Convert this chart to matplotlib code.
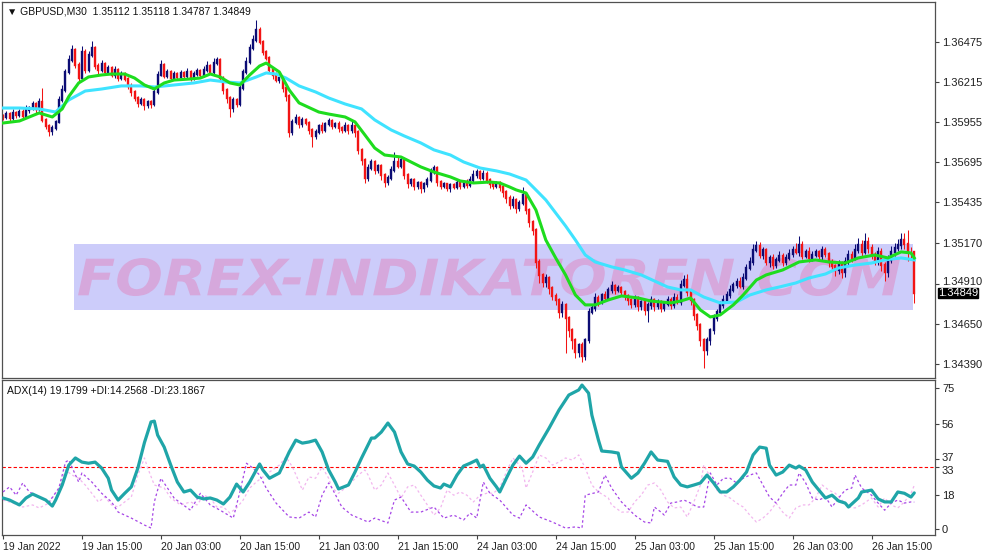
import numpy as np
import matplotlib
matplotlib.use("Agg")
import matplotlib.pyplot as plt
from matplotlib.textpath import TextPath
from matplotlib.patches import PathPatch, Rectangle
from matplotlib.font_manager import FontProperties
from matplotlib.transforms import Affine2D, blended_transform_factory, ScaledTranslation

plt.rcParams['font.family'] = ['Liberation Sans', 'DejaVu Sans']

# ---- price data, GBPUSD M30, bar 0 = 19 Jan 2022 03:00 ----
closes = [
    1.35988, 1.36007, 1.35981, 1.36014, 1.36001, 1.36020, 1.35994, 1.36033, 1.36046, 1.36072,
    1.36040, 1.36085, 1.35969, 1.35930, 1.35897, 1.35917, 1.35956, 1.36098, 1.36163, 1.36279,
    1.36357, 1.36422, 1.36324, 1.36240, 1.36409, 1.36292, 1.36389, 1.36434, 1.36318, 1.36292,
    1.36331, 1.36279, 1.36305, 1.36260, 1.36292, 1.36240, 1.36266, 1.36234, 1.36189, 1.36150,
    1.36111, 1.36079, 1.36098, 1.36066, 1.36085, 1.36072, 1.36150, 1.36260, 1.36324, 1.36253,
    1.36279, 1.36240, 1.36266, 1.36247, 1.36273, 1.36253, 1.36279, 1.36240, 1.36266, 1.36286,
    1.36260, 1.36292, 1.36318, 1.36279, 1.36337, 1.36357, 1.36240, 1.36163, 1.36111, 1.36046,
    1.36098, 1.36072, 1.36176, 1.36279, 1.36344, 1.36434, 1.36486, 1.36551, 1.36473, 1.36409,
    1.36370, 1.36292, 1.36260, 1.36227, 1.36240, 1.36176, 1.36124, 1.35891, 1.35956, 1.35981,
    1.35943, 1.35969, 1.35949, 1.35904, 1.35865, 1.35891, 1.35930, 1.35904, 1.35943, 1.35962,
    1.35930, 1.35943, 1.35917, 1.35904, 1.35930, 1.35904, 1.35930, 1.35891, 1.35775, 1.35710,
    1.35593, 1.35658, 1.35697, 1.35645, 1.35671, 1.35613, 1.35567, 1.35593, 1.35645, 1.35697,
    1.35671, 1.35710, 1.35613, 1.35561, 1.35580, 1.35542, 1.35561, 1.35529, 1.35554, 1.35580,
    1.35632, 1.35658, 1.35567, 1.35542, 1.35554, 1.35529, 1.35548, 1.35535, 1.35561, 1.35542,
    1.35567, 1.35548, 1.35580, 1.35613, 1.35632, 1.35593, 1.35619, 1.35580, 1.35554, 1.35542,
    1.35561, 1.35535, 1.35503, 1.35464, 1.35419, 1.35451, 1.35399, 1.35432, 1.35483, 1.35386,
    1.35309, 1.35257, 1.35050, 1.34966, 1.34921, 1.34946, 1.34882, 1.34830, 1.34804, 1.34726,
    1.34772, 1.34688, 1.34610, 1.34545, 1.34468, 1.34513, 1.34442, 1.34545, 1.34726, 1.34752,
    1.34817, 1.34791, 1.34836, 1.34817, 1.34869, 1.34895, 1.34869, 1.34882, 1.34856, 1.34830,
    1.34804, 1.34778, 1.34817, 1.34765, 1.34791, 1.34739, 1.34772, 1.34804, 1.34765, 1.34791,
    1.34752, 1.34778, 1.34804, 1.34772, 1.34817, 1.34791, 1.34901, 1.34933, 1.34856, 1.34804,
    1.34707, 1.34642, 1.34545, 1.34480, 1.34545, 1.34610, 1.34688, 1.34726, 1.34772, 1.34804,
    1.34836, 1.34869, 1.34901, 1.34921, 1.34895, 1.34946, 1.35011, 1.35050, 1.35127, 1.35153,
    1.35095, 1.35127, 1.35050, 1.35076, 1.35030, 1.35063, 1.35089, 1.35050, 1.35076, 1.35102,
    1.35127, 1.35115, 1.35160, 1.35089, 1.35115, 1.35076, 1.35095, 1.35115, 1.35089, 1.35127,
    1.35102, 1.35050, 1.35024, 1.34998, 1.35037, 1.34985, 1.35050, 1.35095, 1.35076, 1.35127,
    1.35160, 1.35115, 1.35179, 1.35140, 1.35095, 1.35063, 1.35115, 1.35030, 1.34985, 1.35063,
    1.35115, 1.35140, 1.35160, 1.35192, 1.35166, 1.35115, 1.35112, 1.34849,
]
first_open = 1.35995

# wick lengths in points (1e-5)
upper_wick = [
    15, 20, 10, 25, 12, 18, 22, 30, 15, 20, 12, 25, 90, 15, 10, 20, 12, 25, 30, 20,
    35, 30, 15, 20, 40, 18, 25, 45, 15, 20, 25, 12, 20, 15, 25, 10, 20, 15, 12, 18,
    15, 10, 20, 12, 15, 10, 20, 25, 30, 15, 20, 12, 18, 15, 20, 12, 25, 15, 20, 18,
    15, 25, 30, 12, 30, 20, 15, 10, 12, 15, 20, 15, 25, 20, 30, 25, 35, 65, 20, 15,
    12, 15, 10, 20, 15, 12, 10, 15, 20, 25, 15, 20, 12, 15, 10, 20, 15, 25, 12, 20,
    15, 10, 20, 15, 25, 12, 30, 15, 10, 12, 15, 25, 20, 15, 12, 10, 15, 20, 25, 65,
    30, 20, 15, 10, 12, 15, 10, 12, 15, 20, 25, 20, 10, 12, 15, 10, 12, 15, 20, 12,
    15, 20, 25, 30, 20, 15, 25, 20, 12, 10, 15, 12, 10, 15, 20, 25, 15, 20, 50, 15,
    12, 15, 10, 20, 12, 25, 15, 10, 20, 15, 25, 15, 12, 10, 15, 12, 20, 15, 25, 20,
    30, 20, 15, 25, 20, 30, 15, 20, 15, 10, 12, 15, 20, 12, 15, 10, 20, 25, 15, 20,
    15, 20, 25, 20, 30, 25, 35, 30, 40, 15, 12, 10, 15, 12, 20, 15, 25, 20, 25, 30,
    25, 30, 20, 25, 30, 35, 25, 30, 40, 35, 25, 20, 15, 20, 25, 20, 30, 20, 25, 30,
    25, 45, 60, 25, 20, 30, 25, 20, 15, 25, 20, 15, 20, 12, 25, 20, 30, 35, 25, 40,
    45, 30, 60, 35, 25, 20, 30, 25, 20, 30, 35, 30, 40, 45, 45, 90, 30, 6,
]
lower_wick = [
    20, 15, 25, 12, 20, 15, 18, 12, 20, 15, 25, 12, 15, 20, 30, 25, 15, 10, 12, 15,
    12, 15, 20, 25, 15, 20, 12, 15, 20, 25, 15, 20, 12, 15, 18, 20, 12, 15, 20, 25,
    20, 25, 15, 30, 20, 25, 15, 12, 10, 15, 12, 20, 15, 12, 18, 15, 12, 20, 15, 12,
    15, 12, 10, 15, 12, 15, 20, 25, 30, 60, 25, 20, 15, 12, 10, 15, 12, 10, 15, 20,
    15, 20, 25, 15, 20, 25, 30, 35, 20, 15, 25, 20, 15, 25, 70, 20, 15, 20, 15, 12,
    20, 15, 25, 20, 15, 25, 20, 30, 25, 30, 35, 20, 15, 25, 20, 30, 35, 20, 15, 12,
    15, 12, 25, 30, 20, 25, 20, 30, 25, 20, 15, 12, 25, 20, 15, 20, 25, 15, 12, 20,
    15, 20, 12, 15, 20, 15, 12, 20, 25, 20, 15, 25, 30, 35, 25, 20, 30, 20, 15, 25,
    30, 35, 40, 50, 35, 30, 40, 25, 30, 40, 30, 230, 45, 60, 40, 35, 40, 25, 20, 15,
    20, 25, 15, 20, 15, 20, 25, 15, 20, 25, 30, 25, 20, 30, 25, 35, 80, 25, 30, 20,
    25, 20, 15, 25, 20, 15, 20, 15, 25, 30, 35, 30, 40, 115, 35, 30, 25, 20, 15, 20,
    15, 20, 15, 20, 15, 20, 15, 12, 20, 15, 20, 25, 20, 30, 25, 20, 15, 25, 20, 15,
    20, 15, 25, 20, 15, 25, 20, 15, 20, 25, 20, 30, 35, 40, 25, 40, 30, 20, 25, 15,
    20, 25, 15, 30, 25, 35, 30, 40, 60, 30, 20, 25, 20, 25, 30, 60, 40, 62,
]

# moving averages (bar index, price)
ma_fast_bar = [0, 5, 11, 15, 18, 20, 23, 26, 30, 33, 37, 40, 43, 46, 49, 52, 57, 60, 63, 66,
               69, 72, 75, 78, 80, 84, 87, 90, 96, 99, 104, 107, 110, 113, 116, 121, 124, 127, 131, 136,
               139, 143, 148, 151, 154, 156, 159, 162, 165, 168, 171, 174, 177, 180, 184, 188, 193, 197, 203, 206,
               209, 212, 215, 218, 222, 225, 229, 232, 237, 242, 247, 251, 256, 260, 265, 269, 273, 276, 277]
ma_fast = [1.35949, 1.35962, 1.36014, 1.35988, 1.36040, 1.36120, 1.36208, 1.36247, 1.36260, 1.36266,
           1.36266, 1.36240, 1.36195, 1.36169, 1.36208, 1.36227, 1.36234, 1.36240, 1.36266, 1.36247,
           1.36208, 1.36195, 1.36260, 1.36318, 1.36337, 1.36279, 1.36163, 1.36079, 1.36020, 1.36007,
           1.35988, 1.35956, 1.35872, 1.35787, 1.35742, 1.35729, 1.35697, 1.35665, 1.35632, 1.35600,
           1.35574, 1.35561, 1.35567, 1.35561, 1.35535, 1.35516, 1.35496, 1.35386, 1.35192, 1.35076,
           1.34966, 1.34836, 1.34772, 1.34772, 1.34804, 1.34830, 1.34817, 1.34797, 1.34785, 1.34797,
           1.34817, 1.34739, 1.34694, 1.34707, 1.34772, 1.34836, 1.34933, 1.34966, 1.34998, 1.35050,
           1.35063, 1.35050, 1.35043, 1.35076, 1.35095, 1.35076, 1.35115, 1.35108, 1.35076]
ma_slow_bar = [0, 5, 11, 16, 20, 25, 30, 36, 42, 46, 52, 58, 63, 68, 72, 77, 80, 83, 86, 90,
               95, 99, 104, 109, 113, 118, 122, 127, 131, 136, 140, 145, 150, 154, 159, 162, 165, 168, 171, 174,
               177, 180, 185, 189, 194, 198, 202, 206, 209, 213, 218, 223, 227, 232, 236, 241, 245, 250, 254, 259,
               264, 268, 273, 277]
ma_slow = [1.36046, 1.36046, 1.36040, 1.36020, 1.36098, 1.36156, 1.36169, 1.36189, 1.36189, 1.36182,
           1.36195, 1.36208, 1.36227, 1.36214, 1.36208, 1.36247, 1.36273, 1.36266, 1.36240, 1.36189,
           1.36150, 1.36111, 1.36072, 1.36040, 1.35969, 1.35904, 1.35865, 1.35820, 1.35775, 1.35742,
           1.35697, 1.35658, 1.35639, 1.35619, 1.35580, 1.35516, 1.35451, 1.35367, 1.35283, 1.35192,
           1.35095, 1.35050, 1.35018, 1.34998, 1.34966, 1.34927, 1.34888, 1.34869, 1.34869, 1.34823,
           1.34785, 1.34791, 1.34836, 1.34869, 1.34888, 1.34914, 1.34946, 1.34972, 1.35011, 1.35030,
           1.35043, 1.35063, 1.35076, 1.35063]

# ADX(14)
adx_bar = [0, 2, 5, 7, 9, 11, 13, 15, 16, 18, 20, 22, 24, 26, 28, 30, 32, 33, 35, 37,
           39, 41, 43, 45, 46, 47, 49, 51, 53, 55, 57, 59, 61, 63, 65, 67, 69, 71, 73, 75,
           78, 79, 81, 84, 87, 89, 91, 93, 95, 97, 99, 101, 102, 105, 107, 109, 112, 113, 115, 117,
           119, 121, 123, 125, 127, 129, 131, 133, 134, 136, 138, 140, 142, 144, 145, 146, 148, 150, 151, 153,
           155, 157, 159, 161, 163, 166, 169, 172, 175, 176, 178, 179, 181, 182, 185, 187, 188, 191, 193, 195,
           197, 199, 202, 204, 206, 208, 210, 212, 214, 216, 218, 220, 222, 224, 226, 228, 230, 232, 233, 235,
           237, 239, 241, 242, 244, 246, 248, 250, 252, 254, 256, 257, 260, 261, 264, 266, 268, 270, 272, 274,
           276, 277]
adx = [16.5, 15.4, 12.8, 16.5, 18.6, 17.0, 15.4, 12.2, 15.4, 23.4, 34.0, 37.8, 35.6, 35.0, 35.6, 32.4, 27.0, 20.7, 15.4, 19.0,
       22.4, 32.4, 46.0, 57.0, 57.4, 50.0, 43.6, 34.0, 25.0, 19.7, 20.7, 17.0, 16.0, 16.5, 15.4, 13.3, 17.0, 23.9, 19.7, 25.0,
       34.6, 31.4, 27.0, 29.8, 41.0, 47.3, 45.7, 46.3, 47.3, 41.0, 31.4, 25.0, 21.3, 23.4, 30.3, 37.8, 48.4, 48.4, 51.6, 56.4,
       51.6, 41.0, 34.6, 33.5, 30.3, 26.0, 22.9, 21.8, 23.9, 22.4, 28.7, 33.5, 35.0, 36.7, 33.0, 34.0, 27.0, 22.4, 19.7, 27.0,
       34.0, 38.8, 35.0, 38.3, 44.7, 53.7, 63.3, 71.3, 74.0, 76.6, 72.3, 60.6, 47.3, 41.5, 41.0, 40.4, 33.0, 27.0, 29.8, 35.0,
       41.0, 36.7, 36.0, 27.7, 23.4, 22.4, 23.4, 24.5, 28.7, 24.5, 19.7, 19.7, 22.4, 26.0, 30.3, 39.4, 43.6, 43.0, 34.0, 28.7,
       30.3, 34.0, 32.4, 33.5, 31.4, 25.0, 20.7, 16.5, 18.0, 14.9, 13.8, 11.7, 16.5, 19.7, 20.7, 16.0, 14.4, 14.4, 19.7, 19.0,
       17.0, 19.2]
plus_di_bar = [0, 2, 4, 6, 8, 10, 14, 17, 19, 20, 23, 24, 27, 30, 33, 35, 39, 43, 45, 46,
               48, 50, 52, 54, 57, 60, 63, 66, 70, 72, 74, 76, 78, 80, 83, 87, 90, 93, 95, 97,
               99, 100, 103, 106, 111, 113, 117, 119, 121, 124, 127, 131, 134, 137, 140, 142, 144, 146, 148, 151,
               155, 157, 159, 163, 167, 171, 174, 176, 177, 181, 183, 185, 188, 192, 195, 197, 198, 200, 201, 203,
               205, 207, 209, 211, 213, 215, 217, 219, 221, 223, 225, 227, 229, 231, 233, 235, 237, 239, 241, 242,
               244, 246, 248, 250, 252, 254, 256, 258, 259, 261, 264, 266, 268, 270, 272, 274, 276, 277]
plus_di = [19.7, 22.4, 18.0, 24.5, 19.7, 18.0, 14.4, 21.8, 35.6, 36.7, 25.0, 29.8, 25.0, 19.0, 14.4, 9.0, 5.8, 2.1, 0.5, 14.4,
           27.0, 21.8, 16.5, 13.8, 10.0, 19.0, 12.8, 10.0, 5.8, 19.7, 35.0, 32.4, 28.7, 21.8, 13.8, 6.4, 5.8, 9.0, 6.4, 18.0,
           24.5, 21.8, 11.7, 7.4, 3.7, 5.8, 3.2, 15.4, 17.0, 9.0, 9.0, 11.7, 5.8, 7.4, 4.8, 8.5, 5.8, 25.0, 19.0, 15.4,
           7.4, 5.8, 12.8, 6.4, 3.7, 0.5, 1.1, 0.5, 18.0, 19.7, 28.7, 21.8, 14.4, 7.4, 3.7, 3.2, 11.7, 9.0, 7.4, 13.8,
           14.4, 15.4, 13.8, 11.7, 11.7, 29.8, 23.4, 27.0, 27.0, 24.5, 27.0, 28.7, 29.8, 23.4, 17.0, 13.8, 19.0, 23.4, 23.4, 29.8,
           24.5, 16.5, 15.4, 17.0, 11.7, 16.5, 20.7, 21.8, 28.7, 21.8, 18.0, 13.8, 10.0, 13.8, 15.4, 13.8, 14.4, 14.3]
minus_di_bar = [0, 3, 6, 9, 11, 14, 17, 19, 21, 23, 25, 27, 29, 31, 33, 35, 37, 39, 41, 43,
                44, 46, 49, 51, 54, 57, 59, 61, 63, 65, 67, 69, 71, 73, 75, 77, 79, 81, 84, 86,
                88, 90, 91, 93, 95, 97, 99, 100, 102, 104, 106, 108, 110, 111, 113, 115, 117, 119, 121, 123,
                125, 127, 129, 131, 133, 135, 137, 139, 141, 143, 145, 147, 149, 151, 153, 155, 157, 158, 159, 161,
                163, 165, 167, 169, 171, 173, 175, 177, 179, 181, 184, 185, 188, 190, 192, 194, 196, 198, 200, 202,
                204, 206, 208, 210, 212, 213, 215, 217, 219, 221, 223, 225, 227, 229, 231, 233, 235, 237, 239, 241,
                243, 245, 247, 249, 251, 253, 255, 257, 259, 261, 264, 266, 268, 270, 272, 274, 276, 277]
minus_di = [15.4, 13.8, 11.7, 12.8, 11.2, 13.8, 21.8, 31.4, 28.7, 27.0, 23.4, 19.0, 14.4, 17.0, 12.8, 11.7, 14.4, 17.0, 28.7, 37.8,
            32.4, 23.4, 21.8, 16.5, 12.8, 14.4, 12.8, 18.0, 16.5, 11.7, 11.7, 8.5, 11.2, 15.4, 21.8, 25.0, 27.7, 30.3, 34.0, 38.3,
            33.0, 25.0, 20.7, 27.7, 27.0, 33.0, 27.0, 21.8, 19.0, 21.8, 25.0, 28.7, 31.4, 28.7, 20.7, 23.4, 29.8, 23.4, 16.5, 22.4,
            23.4, 18.0, 12.8, 7.4, 11.2, 20.7, 18.0, 19.7, 18.0, 14.4, 18.0, 19.0, 19.0, 21.8, 30.3, 37.8, 34.0, 31.0, 21.8, 30.3,
            39.4, 37.8, 34.0, 35.6, 37.8, 36.7, 39.4, 32.4, 23.4, 19.7, 16.5, 12.8, 9.0, 9.0, 14.4, 18.0, 23.4, 24.5, 20.7, 14.4,
            11.2, 11.7, 6.4, 14.4, 23.4, 34.0, 27.7, 20.7, 18.0, 16.5, 13.8, 11.7, 7.4, 3.7, 5.8, 9.0, 13.8, 9.0, 5.8, 11.2,
            12.8, 12.8, 16.5, 23.4, 20.7, 19.0, 15.4, 11.7, 11.2, 12.8, 16.5, 11.7, 16.5, 12.8, 11.2, 14.4, 19.0, 23.2]
adx_level = 33

price_ticks = [1.36475, 1.36215, 1.35955, 1.35695, 1.35435, 1.35170, 1.34910, 1.34650, 1.34390]
adx_ticks = [75, 56, 37, 33, 18, 0]
time_ticks = [0, 24, 48, 72, 96, 120, 144, 168, 192, 216, 240, 264]
time_labels = ['19 Jan 2022', '19 Jan 15:00', '20 Jan 03:00', '20 Jan 15:00', '21 Jan 03:00',
               '21 Jan 15:00', '24 Jan 03:00', '24 Jan 15:00', '25 Jan 03:00', '25 Jan 15:00',
               '26 Jan 03:00', '26 Jan 15:00']
title = '\u25bc GBPUSD,M30  1.35112 1.35118 1.34787 1.34849'
adx_title = 'ADX(14) 19.1799 +DI:14.2568 -DI:23.1867'
last_price = closes[-1]

# ---- build OHLC ----
c = np.array(closes)
o = np.concatenate([[first_open], c[:-1]])
hi = np.maximum(o, c) + np.array(upper_wick) * 1e-5
lo = np.minimum(o, c) - np.array(lower_wick) * 1e-5
x = np.arange(len(c))
bull = c >= o

W, H = 987, 555
fig = plt.figure(figsize=(W / 100, H / 100), dpi=100)
ax = fig.add_axes([2 / W, 1 - 378 / H, 933 / W, 376 / H])
ax2 = fig.add_axes([2 / W, 1 - 535 / H, 933 / W, 155 / H])

xmin, xmax = -0.3, 283.3
for a in (ax, ax2):
    a.set_xlim(xmin, xmax)
    for s in a.spines.values():
        s.set_color('#505050')
        s.set_linewidth(0.9)

ax.set_ylim(1.34299, 1.36732)
ax2.set_ylim(-3.2, 79.3)

# watermark band
ax.add_patch(Rectangle((0.0772, 0.181), 0.8992, 0.175, transform=ax.transAxes,
                       facecolor='#ccccfa', edgecolor='none', zorder=0))
fp = FontProperties(family='DejaVu Sans', weight='bold', style='italic')
tp = TextPath((0, 0), 'FOREX-INDIKATOREN.COM', size=1, prop=fp)
ext = tp.get_extents()
bx0, bx1, by0, by1 = 0.0815, 0.9625, 0.218, 0.319
tr = (Affine2D().translate(-ext.x0, -ext.y0)
      .scale((bx1 - bx0) / ext.width, (by1 - by0) / ext.height)
      .translate(bx0, by0)) + ax.transAxes
ax.add_patch(PathPatch(tp, transform=tr, facecolor='#d6a8dc', edgecolor='none', zorder=1))

# candles
bull_col, bear_col = '#0c0c74', '#f21414'
cols = np.where(bull, bull_col, bear_col)
ax.vlines(x, lo, hi, colors=cols, linewidth=0.75, zorder=2)
ax.vlines(x, o, c, colors=cols, linewidth=1.7, zorder=2, capstyle='projecting')

# moving averages
ax.plot(ma_slow_bar, ma_slow, color='#3fe3ff', lw=2.2, zorder=3, solid_joinstyle='round')
ax.plot(ma_fast_bar, ma_fast, color='#1edc1e', lw=2.2, zorder=4, solid_joinstyle='round')

fs = 7.5
tick_kw = dict(direction='out', length=3, width=0.8, pad=2,
               color='#404040', labelcolor='#202020')
ax.set_xticks([])
ax.yaxis.tick_right()
ax.set_yticks(price_ticks)
ax.set_yticklabels([f'{p:.5f}' for p in price_ticks])
ax.tick_params(axis='y', labelsize=8, **tick_kw)
# keep the label just above the price tag readable
for lbl in ax.get_yticklabels():
    if lbl.get_text() == '1.34910':
        lbl.set_transform(lbl.get_transform() + ScaledTranslation(0, 1.5 / 72, fig.dpi_scale_trans))

ax.text(0.005, 0.988, title, transform=ax.transAxes, va='top', ha='left', fontsize=fs, color='#101010')

# last price tag
bt = blended_transform_factory(ax.transAxes, ax.transData)
ax.text(1.003, last_price, f'{last_price:.5f}', transform=bt, va='center', ha='left', fontsize=8,
        color='white', bbox=dict(boxstyle='square,pad=0.02', facecolor='black', edgecolor='black'),
        clip_on=False, zorder=10)

# ---- ADX panel ----
ax2.axhline(adx_level, color='#ff0000', lw=0.8, ls=(0, (3, 2)), zorder=1)
ax2.plot(minus_di_bar, minus_di, color='#f2b6ee', lw=0.9, ls=(0, (2, 2)), zorder=2)
ax2.plot(plus_di_bar, plus_di, color='#a646e6', lw=0.9, ls=(0, (2, 2)), zorder=3)
ax2.plot(adx_bar, adx, color='#1fa5a8', lw=2.3, zorder=4, solid_joinstyle='round', solid_capstyle='round')

ax2.yaxis.tick_right()
ax2.set_yticks(adx_ticks)
ax2.set_yticklabels([str(t) for t in adx_ticks])
ax2.tick_params(axis='y', labelsize=8, **tick_kw)
# 37 and 33 sit close together: nudge them apart a little
for lbl in ax2.get_yticklabels():
    if lbl.get_text() == '37':
        lbl.set_transform(lbl.get_transform() + ScaledTranslation(0, 2 / 72, fig.dpi_scale_trans))
    elif lbl.get_text() == '33':
        lbl.set_transform(lbl.get_transform() + ScaledTranslation(0, -2.5 / 72, fig.dpi_scale_trans))

ax2.set_xticks(time_ticks)
ax2.set_xticklabels(time_labels)
ax2.tick_params(axis='x', labelsize=fs, **tick_kw)
for lbl in ax2.get_xticklabels():
    lbl.set_horizontalalignment('left')

ax2.text(0.005, 0.96, adx_title, transform=ax2.transAxes, va='top', ha='left', fontsize=fs, color='#101010')

fig.savefig('out.png', dpi=100, facecolor='white')
